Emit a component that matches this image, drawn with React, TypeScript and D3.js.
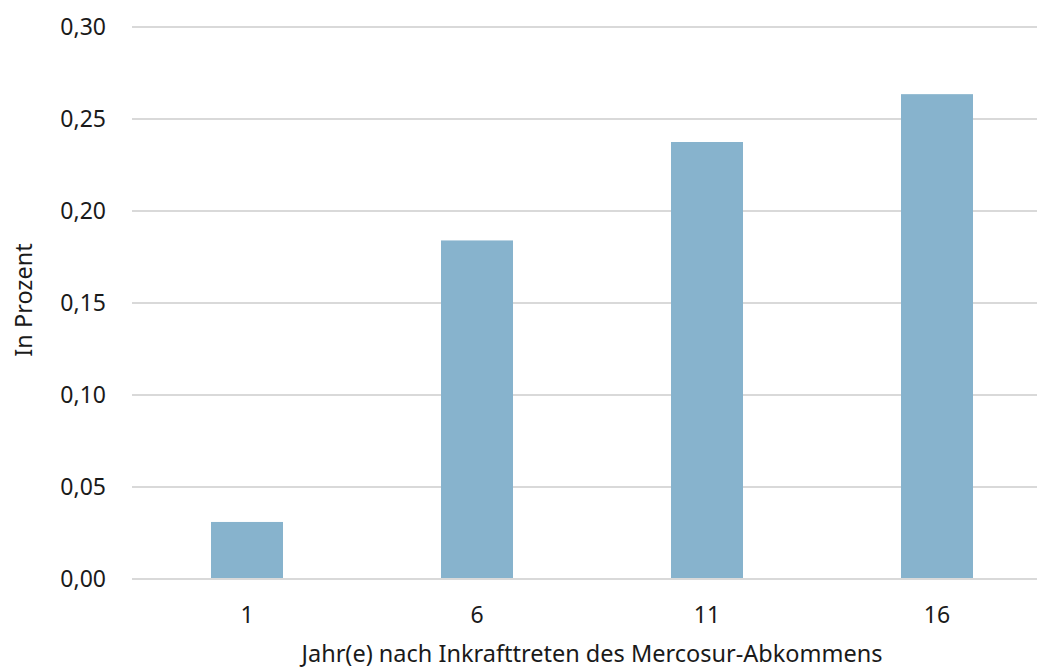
import React from "react";
import * as d3 from "d3";

const categories = ["1", "6", "11", "16"];
const values = [0.031, 0.184, 0.2375, 0.2635];
const yTicks = [0, 0.05, 0.1, 0.15, 0.2, 0.25, 0.3];
const yTitle = "In Prozent";
const xTitle = "Jahr(e) nach Inkrafttreten des Mercosur-Abkommens";

const W = 1038;
const H = 669;
const FONT = "'Noto Sans', sans-serif";
const FS = 23;
const FT = 23.5;

export default function App() {
  const x = d3
    .scaleBand<string>()
    .domain(categories)
    .range([132, 1052])
    .paddingInner(0.687)
    .paddingOuter(0.3435);
  const y = d3.scaleLinear().domain([0, 0.3]).range([579, 27]);
  const fmt = (v: number) => d3.format(".2f")(v).replace(".", ",");

  return (
    <div style={{ position: "absolute", left: 0, top: 0 }}>
      <svg width={W} height={H} style={{ display: "block", background: "#fff" }}>
        {yTicks.map((t) => (
          <g key={t}>
            <line x1={132} x2={1037} y1={y(t)} y2={y(t)} stroke="#d9d9d9" strokeWidth={2} />
            <text
              x={106}
              y={y(t) + 8.3}
              textAnchor="end"
              fontFamily={FONT}
              fontSize={FS}
              fill="#1a1a1a"
            >
              {fmt(t)}
            </text>
          </g>
        ))}
        {categories.map((c, i) => (
          <rect
            key={c}
            x={x(c)}
            y={y(values[i])}
            width={x.bandwidth()}
            height={y(0) - y(values[i]) - 1}
            fill="#87b3cd"
          />
        ))}
        {categories.map((c) => (
          <text
            key={c}
            x={(x(c) as number) + x.bandwidth() / 2}
            y={623}
            textAnchor="middle"
            fontFamily={FONT}
            fontSize={FS}
            fill="#1a1a1a"
          >
            {c}
          </text>
        ))}
        <text
          x={592}
          y={662}
          textAnchor="middle"
          fontFamily={FONT}
          fontSize={FT}
          fill="#1a1a1a"
        >
          {xTitle}
        </text>
        <text
          transform={`translate(32,300) rotate(-90)`}
          textAnchor="middle"
          fontFamily={FONT}
          fontSize={FT}
          fill="#1a1a1a"
        >
          {yTitle}
        </text>
      </svg>
    </div>
  );
}
